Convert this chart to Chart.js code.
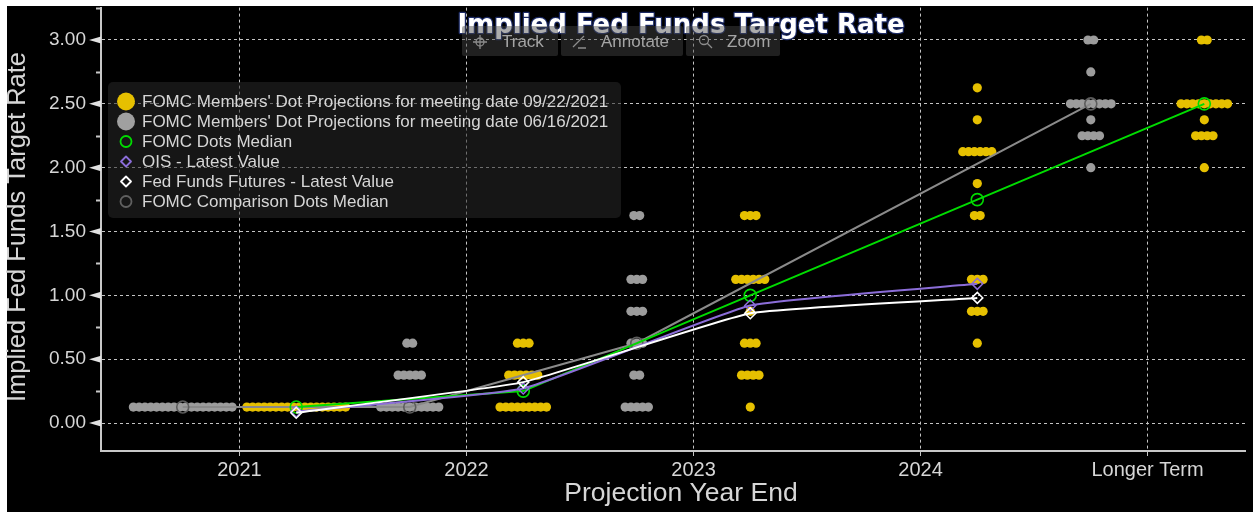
<!DOCTYPE html>
<html>
<head>
<meta charset="utf-8">
<title>Implied Fed Funds Target Rate</title>
<script src="https://cdn.jsdelivr.net/npm/chart.js@4.4.1/dist/chart.umd.min.js"></script>
<style>
  html, body { margin: 0; padding: 0; background: #fff; }
  #wrap { width: 1253px; height: 512px; }
</style>
</head>
<body>
<div id="wrap"><canvas id="chart" width="1253" height="512"></canvas></div>
<script>
const categories = ['2021', '2022', '2023', '2024', 'Longer Term'];
const yTicks = [0, 0.5, 1, 1.5, 2, 2.5, 3];

// [category index, rate, number of participants]
const sepDots = [
  [0, 0.125, 18],
  [1, 0.125, 9], [1, 0.375, 6], [1, 0.625, 3],
  [2, 0.125, 1], [2, 0.375, 4], [2, 0.625, 3], [2, 0.875, 1], [2, 1.125, 6], [2, 1.625, 3],
  [3, 0.625, 1], [3, 0.875, 3], [3, 1.125, 3], [3, 1.625, 2], [3, 1.875, 1], [3, 2.125, 6], [3, 2.375, 1], [3, 2.625, 1],
  [4, 2.0, 1], [4, 2.25, 4], [4, 2.375, 1], [4, 2.5, 9], [4, 3.0, 2]
];
const junDots = [
  [0, 0.125, 18],
  [1, 0.125, 11], [1, 0.375, 5], [1, 0.625, 2],
  [2, 0.125, 5], [2, 0.375, 2], [2, 0.625, 3], [2, 0.875, 3], [2, 1.125, 3], [2, 1.625, 2],
  [4, 2.0, 1], [4, 2.25, 4], [4, 2.375, 1], [4, 2.5, 8], [4, 2.75, 1], [4, 3.0, 2]
];

const sepMedian = [0.125, 0.25, 1.0, 1.75, 2.5];
const junMedian = [0.125, 0.125, 0.625, null, 2.5];
const oisLatest = [0.09, 0.27, 0.92, 1.09, null];
const fffLatest = [0.08, 0.32, 0.86, 0.98, null];

const FONT = "'Liberation Sans', Arial, sans-serif";
const SEP_X = 0.25;   // Sept dots sit right of the year line
const JUN_X = -0.25;  // June dots sit left of it
const DOT_STEP = 0.0256;
const GRID = '#c4c4c4';
const TEXT = '#d6d6d6';

function spreadDots(groups, offset) {
  const pts = [];
  groups.forEach(([cat, rate, n]) => {
    for (let i = 0; i < n; i++) {
      pts.push({ x: cat + offset + (i - (n - 1) / 2) * DOT_STEP, y: rate });
    }
  });
  return pts;
}

function linePoints(values, offset) {
  return values.map((v, i) => ({ x: i + offset, y: v }));
}

const datasets = [
  {
    type: 'scatter', label: "FOMC Members' Dot Projections for meeting date 09/22/2021",
    data: spreadDots(sepDots, SEP_X), backgroundColor: '#e6c000', borderWidth: 0,
    pointRadius: 4.6, order: 20, legend: { style: 'circle', r: 9, fill: '#e6c000', stroke: null }
  },
  {
    type: 'scatter', label: "FOMC Members' Dot Projections for meeting date 06/16/2021",
    data: spreadDots(junDots, JUN_X), backgroundColor: '#9c9c9c', borderWidth: 0,
    pointRadius: 4.6, order: 21, legend: { style: 'circle', r: 9, fill: '#a0a0a0', stroke: null }
  },
  {
    type: 'line', label: 'FOMC Dots Median', data: linePoints(sepMedian, SEP_X),
    borderColor: '#00dc00', borderWidth: 2, pointStyle: 'circle', pointRadius: 6,
    pointBorderColor: '#00dc00', pointBackgroundColor: 'rgba(0,0,0,0)', pointBorderWidth: 1.6,
    order: 3, legend: { style: 'circle', r: 5.5, fill: null, stroke: '#00dc00' }
  },
  {
    type: 'line', label: 'OIS - Latest Value', data: linePoints(oisLatest, SEP_X),
    borderColor: '#8b6dd8', borderWidth: 2, pointStyle: 'rectRot', pointRadius: 5.5,
    pointBorderColor: '#8b6dd8', pointBackgroundColor: 'rgba(0,0,0,0)', pointBorderWidth: 1.5,
    tension: 0.12, order: 2, legend: { style: 'diamond', r: 5, fill: null, stroke: '#8b6dd8' }
  },
  {
    type: 'line', label: 'Fed Funds Futures - Latest Value', data: linePoints(fffLatest, SEP_X),
    borderColor: '#ffffff', borderWidth: 2, pointStyle: 'rectRot', pointRadius: 5.5,
    pointBorderColor: '#ffffff', pointBackgroundColor: 'rgba(0,0,0,0)', pointBorderWidth: 1.5,
    tension: 0.12, order: 1, legend: { style: 'diamond', r: 5, fill: null, stroke: '#ffffff' }
  },
  {
    type: 'line', label: 'FOMC Comparison Dots Median', data: linePoints(junMedian, JUN_X),
    borderColor: '#8a8a8a', borderWidth: 2, pointStyle: 'circle', pointRadius: 6, spanGaps: true,
    pointBorderColor: '#5c5c5c', pointBackgroundColor: 'rgba(0,0,0,0)', pointBorderWidth: 1.6,
    order: 4, legend: { style: 'circle', r: 5.5, fill: null, stroke: '#606060' }
  }
];

function marker(ctx, m, x, y) {
  ctx.beginPath();
  if (m.style === 'diamond') {
    ctx.moveTo(x, y - m.r); ctx.lineTo(x + m.r, y); ctx.lineTo(x, y + m.r); ctx.lineTo(x - m.r, y);
    ctx.closePath();
  } else {
    ctx.arc(x, y, m.r, 0, Math.PI * 2);
  }
  if (m.fill) { ctx.fillStyle = m.fill; ctx.fill(); }
  if (m.stroke) { ctx.strokeStyle = m.stroke; ctx.lineWidth = 1.8; ctx.stroke(); }
}

function roundBox(ctx, x, y, w, h, r) {
  ctx.beginPath();
  ctx.moveTo(x + r, y);
  ctx.arcTo(x + w, y, x + w, y + h, r);
  ctx.arcTo(x + w, y + h, x, y + h, r);
  ctx.arcTo(x, y + h, x, y, r);
  ctx.arcTo(x, y, x + w, y, r);
  ctx.closePath();
}

const backdrop = {
  id: 'backdrop',
  beforeDraw(chart) {
    const ctx = chart.ctx;
    ctx.save();
    ctx.fillStyle = '#fff';
    ctx.fillRect(0, 0, chart.width, chart.height);
    ctx.fillStyle = '#000';
    ctx.fillRect(7, 6, chart.width - 7, chart.height - 6);
    ctx.restore();
  }
};

const decorations = {
  id: 'decorations',
  afterDraw(chart) {
    const ctx = chart.ctx;
    const y = chart.scales.y, area = chart.chartArea;
    ctx.save();

    // y axis markers: triangles on the major ticks, short dashes between
    ctx.fillStyle = '#e2e2e2';
    ctx.strokeStyle = '#c8c8c8';
    ctx.lineWidth = 2;
    yTicks.forEach(v => {
      const py = y.getPixelForValue(v);
      ctx.beginPath();
      ctx.moveTo(area.left, py - 3.5);
      ctx.lineTo(area.left - 12, py);
      ctx.lineTo(area.left, py + 3.5);
      ctx.closePath();
      ctx.fill();
      const mid = y.getPixelForValue(v + 0.25);
      if (mid >= area.top - 2) {
        ctx.beginPath();
        ctx.moveTo(area.left - 5, Math.round(mid) + 0.5);
        ctx.lineTo(area.left, Math.round(mid) + 0.5);
        ctx.stroke();
      }
    });

    // axis titles
    ctx.fillStyle = TEXT;
    ctx.textAlign = 'center';
    ctx.textBaseline = 'middle';
    ctx.font = '26.5px ' + FONT;
    ctx.fillText('Projection Year End', 681, 494);
    ctx.translate(18, 227);
    ctx.rotate(-Math.PI / 2);
    ctx.font = '25.5px ' + FONT;
    ctx.fillText('Implied Fed Funds Target Rate', 0, 0);
    ctx.setTransform(1, 0, 0, 1, 0, 0);

    // chart title with dark outline
    ctx.font = "bold 26px 'DejaVu Sans', sans-serif";
    ctx.textBaseline = 'alphabetic';
    ctx.lineJoin = 'round';
    ctx.strokeStyle = 'rgba(30,45,110,0.9)';
    ctx.lineWidth = 2.5;
    ctx.strokeText('Implied Fed Funds Target Rate', 681, 33);
    ctx.fillStyle = '#ffffff';
    ctx.fillText('Implied Fed Funds Target Rate', 681, 33);

    // toolbar overlay
    const tools = [
      { text: 'Track', x: 462, w: 96, icon: 480, tx: 502 },
      { text: 'Annotate', x: 561, w: 122, icon: 579, tx: 601 },
      { text: 'Zoom', x: 686, w: 94, icon: 706, tx: 727 }
    ];
    tools.forEach(t => {
      ctx.fillStyle = 'rgba(70,70,70,0.45)';
      roundBox(ctx, t.x, 26, t.w, 30, 2);
      ctx.fill();
      ctx.fillStyle = '#a4a4a4';
      ctx.font = '17px ' + FONT;
      ctx.textAlign = 'left';
      ctx.textBaseline = 'middle';
      ctx.fillText(t.text, t.tx, 42);
      ctx.strokeStyle = '#8c8c8c';
      ctx.lineWidth = 1.3;
      ctx.beginPath();
      if (t.text === 'Track') {
        ctx.arc(t.icon, 42, 4, 0, Math.PI * 2);
        ctx.moveTo(t.icon - 7, 42); ctx.lineTo(t.icon + 7, 42);
        ctx.moveTo(t.icon, 35); ctx.lineTo(t.icon, 49);
      } else if (t.text === 'Annotate') {
        ctx.moveTo(t.icon - 6, 47); ctx.lineTo(t.icon + 5, 36);
        ctx.moveTo(t.icon - 1, 48); ctx.lineTo(t.icon + 7, 48);
      } else {
        ctx.arc(t.icon - 2, 40, 4.5, 0, Math.PI * 2);
        ctx.moveTo(t.icon + 1.5, 43.5); ctx.lineTo(t.icon + 6, 48);
      }
      ctx.stroke();
    });

    // legend panel
    ctx.fillStyle = 'rgba(40,40,40,0.55)';
    roundBox(ctx, 108, 82, 513, 136, 5);
    ctx.fill();
    ctx.font = '17px ' + FONT;
    ctx.textAlign = 'left';
    ctx.textBaseline = 'middle';
    chart.data.datasets.forEach((ds, i) => {
      const ly = 101.5 + i * 20;
      marker(ctx, ds.legend, 126, ly);
      ctx.fillStyle = TEXT;
      ctx.fillText(ds.label, 142, ly + 1);
    });
    ctx.restore();
  }
};

new Chart(document.getElementById('chart'), {
  data: { datasets },
  options: {
    responsive: false,
    animation: false,
    layout: { padding: { top: 6, left: 0, right: 0, bottom: 0 } },
    plugins: { legend: { display: false }, tooltip: { enabled: false }, title: { display: false } },
    elements: { line: { tension: 0 } },
    scales: {
      x: {
        type: 'linear', min: -0.61, max: 4.431,
        afterBuildTicks: s => { s.ticks = categories.map((c, i) => ({ value: i })); },
        afterFit: s => { s.height = 61; s.paddingLeft = 0; s.paddingRight = 0; },
        ticks: {
          callback: v => categories[v], color: TEXT, padding: 2,
          font: { family: FONT, size: 20 }, maxRotation: 0, autoSkip: false
        },
        grid: { color: GRID, lineWidth: 1, tickLength: 5, tickColor: GRID, drawTicks: true },
        border: { color: '#c8c8c8', width: 2, dash: [3, 3] }
      },
      y: {
        type: 'linear', min: -0.2193, max: 3.2537,
        afterBuildTicks: s => { s.ticks = yTicks.map(v => ({ value: v })); },
        afterFit: s => { s.width = 101; s.paddingTop = 0; s.paddingBottom = 0; },
        ticks: {
          callback: v => v.toFixed(2), color: TEXT, padding: 15,
          font: { family: FONT, size: 19 }
        },
        grid: { color: GRID, lineWidth: 1, drawTicks: false },
        border: { color: '#c8c8c8', width: 2, dash: [3, 3] }
      }
    }
  },
  plugins: [backdrop, decorations]
});
</script>
</body>
</html>
